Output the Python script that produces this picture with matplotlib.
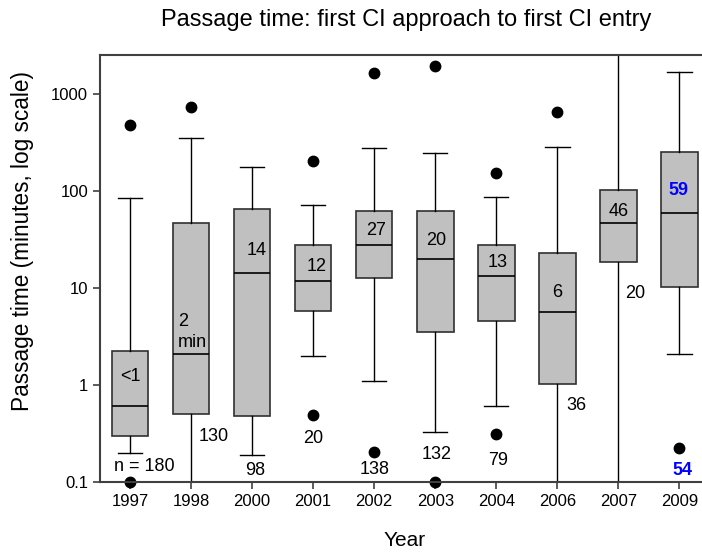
import numpy as np
import matplotlib.pyplot as plt

plt.rcParams.update({
    "font.family": ["Liberation Sans", "DejaVu Sans"],
    "font.size": 12,
})

# -------------------- DATA --------------------
years = ["1997", "1998", "2000", "2001", "2002", "2003", "2004", "2006", "2007", "2009"]
whis_lo = [0.20, 0.05, 0.19, 2.0, 1.1, 0.33, 0.60, 0.05, 0.05, 2.1]
q1 = [0.30, 0.50, 0.48, 5.8, 12.6, 3.5, 4.5, 1.03, 18.5, 10.2]
median = [0.60, 2.1, 14.2, 11.7, 27.3, 19.8, 13.1, 5.7, 46.4, 59.3]
q3 = [2.26, 46.5, 64.7, 27.3, 62.2, 61.2, 27.3, 22.8, 101.6, 252]
whis_hi = [85, 346, 177, 71, 273, 247, 86, 284, 5000, 1660]
outliers = [[471, 0.1], [723], [], [204, 0.49], [1634, 0.205],
            [1944, 0.1], [154, 0.31], [652], [], [0.222]]
median_text = ["<1", "2\nmin", "14", "12", "27", "20", "13", "6", "46", "59"]
n_text = ["n = 180", "130", "98", "20", "138", "132", "79", "36", "20", "54"]

# label placement (x offset from box centre, y in data units)
med_lab_dx = [0, -0.21, 0.08, 0.05, 0.03, 0.02, 0.03, 0, 0, -0.02]
med_lab_y = [1.21, 3.5, 24, 16.4, 38.7, 30.5, 18.1, 8.9, 60.8, 100]
n_lab_dx = [0.23, 0.38, 0.05, 0, 0, 0.03, 0.03, 0.31, 0.27, 0.05]
n_lab_y = [0.143, 0.293, 0.130, 0.282, 0.133, 0.193, 0.166, 0.608, 8.8, 0.130]
blue_idx = [9]

# -------------------- FIGURE --------------------
fig = plt.figure(figsize=(7.02, 5.52), dpi=100)
ax = fig.add_axes([100/702, 70/552, 610/702, 427/552])

stats = []
for i in range(len(years)):
    stats.append(dict(med=median[i], q1=q1[i], q3=q3[i],
                      whislo=whis_lo[i], whishi=whis_hi[i],
                      fliers=outliers[i], label=years[i]))

pos = np.arange(len(years))
ax.bxp(stats, positions=pos, widths=0.6, patch_artist=True,
       boxprops=dict(facecolor="#c0c0c0", edgecolor="#303030", linewidth=1.2),
       medianprops=dict(color="black", linewidth=1.2),
       whiskerprops=dict(color="black", linewidth=1.0),
       capprops=dict(color="black", linewidth=1.0),
       capwidths=0.4,
       flierprops=dict(marker="o", markerfacecolor="black",
                       markeredgecolor="black", markersize=7.5, clip_on=False))

for i in range(len(years)):
    col = "blue" if i in blue_idx else "black"
    fw = "bold" if i in blue_idx else "normal"
    ha = "left" if "\n" in median_text[i] else "center"
    ax.text(pos[i] + med_lab_dx[i], med_lab_y[i], median_text[i],
            ha=ha, va="center", fontsize=13, color=col, fontweight=fw,
            linespacing=1.25)
    ax.text(pos[i] + n_lab_dx[i], n_lab_y[i], n_text[i],
            ha="center", va="center", fontsize=13, color=col, fontweight=fw)

ax.set_yscale("log")
ax.set_ylim(0.1, 2500)
ax.set_xlim(-0.49, 9.5)
ax.set_yticks([0.1, 1, 10, 100, 1000])
ax.set_yticklabels(["0.1", "1", "10", "100", "1000"])
ax.minorticks_off()
ax.set_xticks(pos)
ax.set_xticklabels(years)
ax.tick_params(direction="out", length=5, width=1.2, color="#404040", labelsize=12)

for s in ["top", "left", "bottom", "right"]:
    ax.spines[s].set_color("#404040")
    ax.spines[s].set_linewidth(1.5)

fig.text(405/702, 1 - 541/552, "Year", ha="center", va="center", fontsize=15)
fig.text(23/702, 1 - 241/552, "Passage time (minutes, log scale)",
         ha="center", va="center", rotation=90, fontsize=16.3)
fig.text(406/702, 1 - 20/552, "Passage time: first CI approach to first CI entry",
         ha="center", va="center", fontsize=17)

fig.savefig("out.png", dpi=100)
